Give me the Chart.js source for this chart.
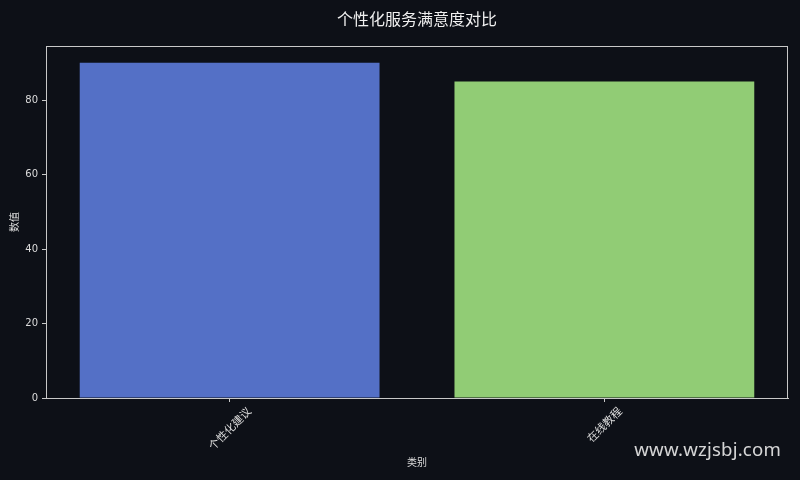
<!DOCTYPE html>
<html>
<head>
<meta charset="utf-8">
<script src="https://cdn.jsdelivr.net/npm/chart.js@4.4.1/dist/chart.umd.min.js"></script>
<style>
  html, body { margin: 0; padding: 0; background: #0d1017; }
  #wrap { position: relative; width: 800px; height: 480px; }
  #watermark {
    position: absolute; right: 19px; top: 436px;
    font-family: "Noto Sans", "Open Sans", sans-serif; font-size: 18.6px;
    color: rgba(235,235,235,0.9); letter-spacing: 0.2px;
  }
</style>
</head>
<body>
<div id="wrap">
  <canvas id="grafiek" width="800" height="480"></canvas>
  <div id="watermark">www.wzjsbj.com</div>
</div>
<script>
const CATEGORIEEN = ['个性化建议', '在线教程'];
const WAARDEN = [90, 85];
const KLEUREN = ['#5470c6', '#91cc75'];
const Y_TICKS = [0, 20, 40, 60, 80];

const TITEL = '个性化服务满意度对比';
const X_TITEL = '类别';
const Y_TITEL = '数值';

const LIJN = '#c8c8c8';
const TEKST = '#dcdcdc';
const CJK = '"Noto Sans CJK SC", "Noto Sans", sans-serif';
const NUM = '"DejaVu Sans", sans-serif';

// kader rond het plotgebied, zoals matplotlib dat tekent
const kaderPlugin = {
  id: 'kader',
  afterDatasetsDraw(chart) {
    const { ctx, chartArea: a } = chart;
    ctx.save();
    ctx.strokeStyle = LIJN;
    ctx.lineWidth = 1;
    ctx.strokeRect(a.left + 0.5, a.top + 0.5, a.right - a.left - 1, a.bottom - a.top);
    ctx.restore();
  }
};

// titel gecentreerd boven het plotgebied (niet boven het hele canvas)
const titelPlugin = {
  id: 'titel',
  afterDraw(chart) {
    const { ctx, chartArea: a } = chart;
    ctx.save();
    ctx.font = '16px ' + CJK;
    ctx.fillStyle = '#f0f0f0';
    ctx.textAlign = 'center';
    ctx.textBaseline = 'middle';
    ctx.fillText(TITEL, (a.left + a.right) / 2, 18.5);
    ctx.restore();
  }
};

// x-labels gecentreerd onder de tick, 45 graden gedraaid
const xLabelPlugin = {
  id: 'xlabels',
  afterDraw(chart) {
    const { ctx, scales } = chart;
    const x = scales.x;
    ctx.save();
    ctx.font = '11px ' + CJK;
    ctx.fillStyle = TEKST;
    ctx.textAlign = 'center';
    ctx.textBaseline = 'middle';
    CATEGORIEEN.forEach((naam, i) => {
      const px = x.getPixelForValue(i);
      const b = ctx.measureText(naam).width;
      const h = (b + 11) * Math.SQRT1_2;
      const py = x.top + 7 + h / 2;
      ctx.save();
      ctx.translate(px, py);
      ctx.rotate(-Math.PI / 4);
      ctx.fillText(naam, 0, 0);
      ctx.restore();
    });
    ctx.restore();
  }
};

new Chart(document.getElementById('grafiek'), {
  type: 'bar',
  data: {
    datasets: [{
      data: WAARDEN.map((v, i) => ({ x: i, y: v })),
      backgroundColor: KLEUREN,
      borderWidth: 0,
      barPercentage: 0.8,
      categoryPercentage: 1,
    }]
  },
  options: {
    responsive: false,
    animation: false,
    layout: { padding: { left: 0, right: 12, top: 46, bottom: 0 } },
    plugins: {
      legend: { display: false },
      tooltip: { enabled: false },
      title: { display: false }
    },
    scales: {
      x: {
        type: 'linear',
        min: -0.49,
        max: 1.49,
        offset: false,
        afterBuildTicks: s => { s.ticks = CATEGORIEEN.map((_, i) => ({ value: i })); },
        afterFit: s => { s.height = 82; },
        ticks: { color: 'rgba(0,0,0,0)', maxRotation: 0, autoSkip: false, callback: () => '' },
        grid: { display: true, offset: false, drawOnChartArea: false, drawTicks: true, tickLength: 4, color: LIJN },
        border: { display: true, color: LIJN },
        title: {
          display: true, text: X_TITEL, color: TEKST,
          font: { family: CJK, size: 10 }, padding: { top: 0, bottom: 12 }
        }
      },
      y: {
        min: 0,
        max: 94.5,
        afterBuildTicks: s => { s.ticks = Y_TICKS.map(v => ({ value: v })); },
        afterFit: s => { s.width = 46; },
        ticks: { color: TEKST, padding: 4, font: { family: NUM, size: 10 } },
        grid: { display: true, drawOnChartArea: false, drawTicks: true, tickLength: 4, color: LIJN },
        border: { display: true, color: LIJN },
        title: {
          display: true, text: Y_TITEL, color: TEKST,
          font: { family: CJK, size: 10 }, padding: { top: 8, bottom: 0 }
        }
      }
    }
  },
  plugins: [kaderPlugin, titelPlugin, xLabelPlugin]
});
</script>
</body>
</html>
